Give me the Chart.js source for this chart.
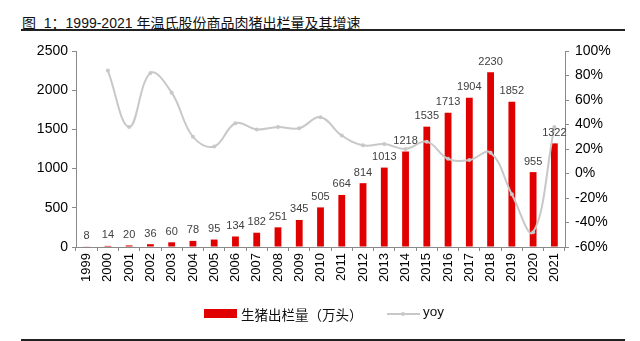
<!DOCTYPE html>
<html>
<head>
<meta charset="utf-8">
<script src="https://cdn.jsdelivr.net/npm/chart.js@4"></script>
<style>
    body { margin: 0; background: #fff; font-family: 'Liberation Sans', 'Noto Sans CJK SC', sans-serif; }
    #wrap { position: relative; width: 640px; height: 341px; overflow: hidden; }
    #title { position: absolute; left: 22px; top: 12px; font-size: 14px; color: #111; white-space: nowrap; }
    .rule { position: absolute; left: 21px; width: 604px; height: 1.5px; background: #222; }
    #chart { position: absolute; left: 0; top: 0; }
    .lg { position: absolute; font-size: 13.5px; color: #111; white-space: nowrap; }
</style>
</head>
<body>
<div id="wrap">
    <div id="title">图&nbsp;&nbsp;1：1999-2021 年温氏股份商品肉猪出栏量及其增速</div>
    <div class="rule" style="top:29px"></div>
    <canvas id="chart" width="640" height="341"></canvas>
    <div class="lg" style="left:204px;top:309px;width:33px;height:9px;background:#e00000"></div>
    <div class="lg" style="left:241px;top:304px">生猪出栏量（万头）</div>
    <div class="lg" style="left:387px;top:313px;width:33px;height:2px;background:#c8c8c8"></div>
    <div class="lg" style="left:401px;top:312px;width:4px;height:4px;border-radius:2px;background:#c8c8c8"></div>
    <div class="lg" style="left:423px;top:304px">yoy</div>
    <div class="rule" style="top:339px"></div>
</div>
<script>
    // 年份
    const years = ['1999', '2000', '2001', '2002', '2003', '2004', '2005', '2006', '2007', '2008', '2009', '2010',
        '2011', '2012', '2013', '2014', '2015', '2016', '2017', '2018', '2019', '2020', '2021'];
    // 生猪出栏量（万头）
    const output = [8, 14, 20, 36, 60, 78, 95, 134, 182, 251, 345, 505,
        664, 814, 1013, 1218, 1535, 1713, 1904, 2230, 1852, 955, 1322];
    // 同比增速 %
    const yoy = [null, 84, 38, 82, 66, 30, 22, 41, 36, 38, 37, 46,
        31, 23, 24, 20, 26, 12, 11, 17, -17, -48, 38];
    const leftTicks = [0, 500, 1000, 1500, 2000, 2500];
    const rightTicks = [-60, -40, -20, 0, 20, 40, 60, 80, 100];

    const axisColor = '#898989';
    const tickFont = { family: "'Liberation Sans', Arial, sans-serif", size: 14 };

    // подписи над столбцами
    const barLabels = {
        id: 'barLabels',
        afterDatasetsDraw(chart) {
            const ctx = chart.ctx;
            const meta = chart.getDatasetMeta(1);
            ctx.save();
            ctx.font = "11px 'Liberation Sans', Arial, sans-serif";
            ctx.fillStyle = '#404040';
            ctx.textAlign = 'center';
            ctx.textBaseline = 'bottom';
            meta.data.forEach((el, i) => {
                ctx.fillText(String(output[i]), el.x, el.y - 5);
            });
            ctx.restore();
        }
    };

    new Chart(document.getElementById('chart'), {
        data: {
            labels: years,
            datasets: [
                {
                    type: 'line',
                    label: 'yoy',
                    data: yoy,
                    yAxisID: 'y2',
                    borderColor: '#c8c8c8',
                    backgroundColor: '#c8c8c8',
                    borderWidth: 2,
                    pointRadius: 2,
                    pointBorderWidth: 0,
                    tension: 0.4,
                    spanGaps: true,
                    order: 0
                },
                {
                    type: 'bar',
                    label: '生猪出栏量（万头）',
                    data: output,
                    yAxisID: 'y',
                    backgroundColor: '#e00000',
                    barPercentage: 0.32,
                    categoryPercentage: 1,
                    order: 1
                }
            ]
        },
        options: {
            responsive: false,
            animation: false,
            layout: { padding: { top: 51, left: 0, right: 0, bottom: 0 } },
            plugins: { legend: { display: false }, tooltip: { enabled: false } },
            scales: {
                x: {
                    offset: true,
                    grid: { display: true, offset: true, drawOnChartArea: false, drawTicks: true, tickLength: 4, color: axisColor },
                    border: { display: true, color: axisColor },
                    ticks: { color: '#000', font: { family: tickFont.family, size: 13 }, minRotation: 90, maxRotation: 90, padding: 2, autoSkip: false },
                    afterFit: s => { s.height = 94; }
                },
                y: {
                    position: 'left',
                    min: 0,
                    max: 2500,
                    afterBuildTicks: s => { s.ticks = leftTicks.map(v => ({ value: v })); },
                    grid: { display: true, drawOnChartArea: false, drawTicks: true, tickLength: 4, color: axisColor },
                    border: { display: true, color: axisColor },
                    ticks: { color: '#000', font: tickFont, padding: 4, callback: v => String(v) },
                    afterFit: s => { s.width = 76; }
                },
                y2: {
                    position: 'right',
                    min: -60,
                    max: 100,
                    afterBuildTicks: s => { s.ticks = rightTicks.map(v => ({ value: v })); },
                    grid: { display: true, drawOnChartArea: false, drawTicks: true, tickLength: 4, color: axisColor },
                    border: { display: true, color: axisColor },
                    ticks: { color: '#000', font: tickFont, padding: 6, callback: v => v + '%' },
                    afterFit: s => { s.width = 75; }
                }
            }
        },
        plugins: [barLabels]
    });
</script>
</body>
</html>
